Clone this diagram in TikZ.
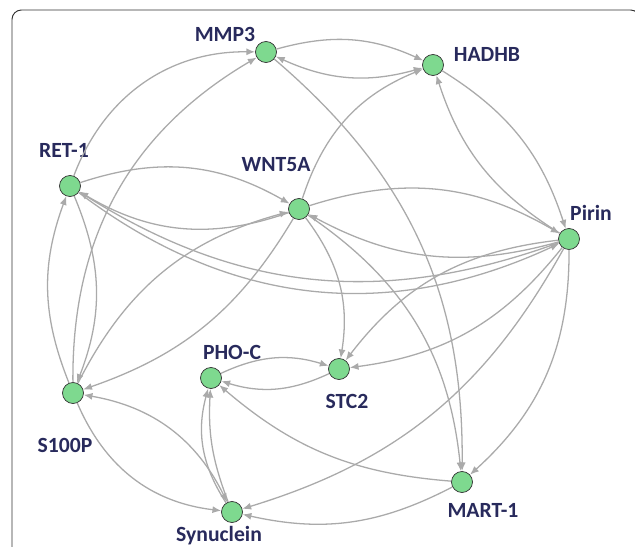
\documentclass[tikz,border=0pt]{standalone}
\usepackage{fontspec}
\setmainfont{Carlito}
\usetikzlibrary{arrows.meta}
\definecolor{ndfill}{RGB}{126,217,143}
\definecolor{edgegray}{RGB}{170,170,170}
\definecolor{lbcol}{RGB}{40,42,92}
\begin{document}
\begin{tikzpicture}[x=0.03cm,y=0.03cm,
  nd/.style={circle,draw=black!80,line width=0.6pt,fill=ndfill,minimum size=0.63cm,inner sep=0pt},
  lb/.style={text=lbcol,font=\fontsize{18.5}{20}\selectfont\bfseries,anchor=base,inner sep=0pt},
  ed/.style={draw=edgegray,line width=1.1pt,-{Latex[length=7.5pt,width=6pt]}},
  bi/.style={draw=edgegray,line width=1.1pt,{Latex[length=7.5pt,width=6pt]}-{Latex[length=7.5pt,width=6pt]}}]
\useasboundingbox (0,0) rectangle (635,546);
\clip (0,0) rectangle (635,546);
\draw[black!80,line width=0.8pt,rounded corners=8pt] (12,536) rectangle (640,-20);

\node[nd] (MMP) at (266,494) {};
\node[nd] (HAD) at (433,481) {};
\node[nd] (RET) at (70,360) {};
\node[nd] (WNT) at (299,337) {};
\node[nd] (PIR) at (569,307) {};
\node[nd] (S100) at (73,153) {};
\node[nd] (PHO) at (211,168) {};
\node[nd] (STC) at (339,177) {};
\node[nd] (SYN) at (232,34) {};
\node[nd] (MART) at (462,64) {};

\node[lb] (lMMP) at (225,504) {MMP3};
\node[lb] (lHAD) at (487,484) {HADHB};
\node[lb] (lRET) at (64,389) {RET-1};
\node[lb] (lWNT) at (276,375) {WNT5A};
\node[lb] (lPIR) at (591,326) {Pirin};
\node[lb] (lPHO) at (232,187) {PHO-C};
\node[lb] (lSTC) at (347,138) {STC2};
\node[lb] (lS100) at (65,94) {S100P};
\node[lb] (lSYN) at (219,5) {Synuclein};
\node[lb] (lMART) at (483,29) {MART-1};

\draw[ed] (RET) to[bend left=35] (MMP);
\draw[ed] (S100) to[bend left=30] (MMP);
\draw[ed] (MMP) to[bend left=20] (HAD);
\draw[bi] (HAD) to[bend left=20] (MMP);
\draw[ed] (WNT) to[bend left=25] (HAD);
\draw[ed] (HAD) to[bend left=20] (PIR);
\draw[ed] (PIR) to[bend left=20] (HAD);
\draw[ed] (RET) to[bend left=24] (WNT);
\draw[ed] (WNT) to[bend left=25] (RET);
\draw[ed] (RET) to[bend right=31] (PIR);
\draw[ed] (PIR) to[bend left=26] (RET);
\draw[ed] (WNT) to[bend left=24] (PIR);
\draw[ed] (PIR) to[bend left=22] (WNT);
\draw[ed] (S100) to[bend left=24] (WNT);
\draw[ed] (WNT) to[bend left=20] (S100);
\draw[ed] (S100) to[bend left=21] (RET);
\draw[ed] (RET) to[bend left=22] (S100);
\draw[bi] (S100) to[bend left=27] (SYN);
\draw[ed] (S100) to[bend right=30] (SYN);
\draw[ed] (SYN) to[bend left=24] (PHO);
\draw[ed] (SYN) to[bend left=12] (PHO);
\draw[ed] (PHO) to[bend left=21] (STC);
\draw[ed] (STC) to[bend left=21] (PHO);
\draw[ed] (WNT) to[bend left=23] (STC);
\draw[ed] (WNT) to[bend left=25] (MART);
\draw[ed] (MMP) to[bend left=25] (MART);
\draw[ed] (PIR) to[bend left=24] (MART);
\draw[ed] (PIR) to[bend left=22] (SYN);
\draw[ed] (PIR) to[bend right=23] (STC);
\draw[ed] (PIR) to[bend left=22] (STC);
\draw[ed] (MART) to[bend left=18] (PHO);
\draw[ed] (MART) to[bend left=20] (SYN);
\end{tikzpicture}
\end{document}
